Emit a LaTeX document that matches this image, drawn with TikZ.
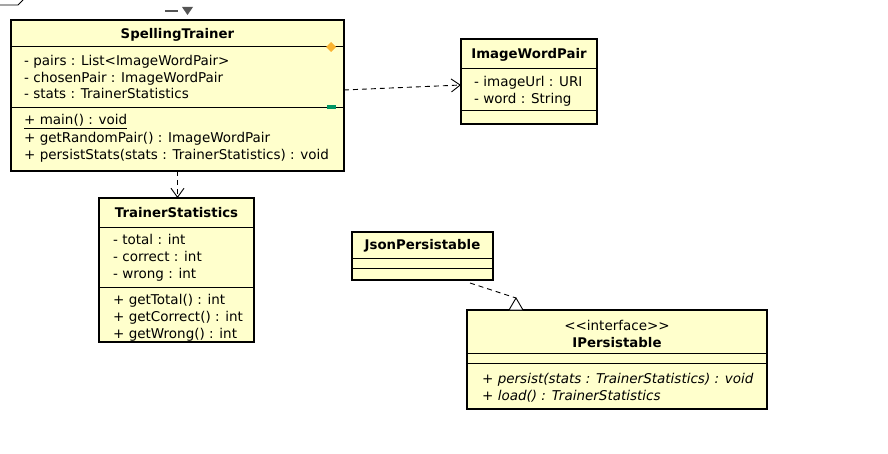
\documentclass[tikz,border=0pt]{standalone}
\usepackage{fontspec}
\setmainfont{DejaVu Sans}
\usetikzlibrary{arrows.meta,positioning}
\definecolor{umlfill}{RGB}{255,255,204}
\definecolor{umlgray}{RGB}{85,85,85}
\definecolor{umlorange}{RGB}{250,180,50}
\definecolor{umlgreen}{RGB}{0,150,100}

\begin{document}
\begin{tikzpicture}[x=1pt, y=-1pt, font=\fontsize{13.5}{16}\selectfont,
    cls/.style = {draw, line width=1.8pt, fill=umlfill, anchor=north west, inner sep=0pt, outer sep=0pt},
    ttl/.style = {inner sep=0pt, text height=12pt, text depth=2pt, font=\fontsize{13.3}{16}\selectfont\bfseries},
    mem/.style = {anchor=west, inner sep=0pt, text height=12pt, text depth=2pt},
    sep/.style = {line width=0.9pt},
    dep/.style = {line width=0.9pt, dash pattern=on 5pt off 4pt, -{Straight Barb[length=9pt, width=13pt]}}]
    \useasboundingbox (0,0) rectangle (888,454);

    % window bits
    \draw[line width=0.9pt] (0,5) -- (18,5) -- (23,0);
    \draw[umlgray, line width=1.6pt] (165,11) -- (178,11);
    \fill[umlgray] (182,7) -- (193,7) -- (187.5,15) -- cycle;

    % SpellingTrainer
    \node[cls, minimum width=333pt, minimum height=151pt] (st) at (11,20) {};
    \node[ttl] (stname) at ([shift={(166.5,14)}]st.north west) {SpellingTrainer};
    \draw[sep] ([shift={(0,26)}]st.north west) -- ([shift={(0,26)}]st.north east);
    \draw[sep] ([shift={(0,87)}]st.north west) -- ([shift={(0,87)}]st.north east);
    \node[mem] (st1) at ([shift={(13,41)}]st.north west) {- pairs : List<ImageWordPair>};
    \node[mem] (st2) at ([shift={(13,57.5)}]st.north west) {- chosenPair : ImageWordPair};
    \node[mem] (st3) at ([shift={(13,74)}]st.north west) {- stats : TrainerStatistics};
    \node[mem] (st4) at ([shift={(13,100)}]st.north west) {\underline{+ main() : void}};
    \node[mem] (st5) at ([shift={(13,117.5)}]st.north west) {+ getRandomPair() : ImageWordPair};
    \node[mem] (st6) at ([shift={(13,135)}]st.north west) {+ persistStats(stats : TrainerStatistics) : void};
    \fill[umlorange] (331,42) -- (336,47) -- (331,52) -- (326,47) -- cycle;
    \fill[umlgreen] (327,105) rectangle (336,109);

    % ImageWordPair
    \node[cls, minimum width=136pt, minimum height=85pt] (iwp) at (461,39) {};
    \node[ttl] (iwpname) at ([shift={(68,15)}]iwp.north west) {ImageWordPair};
    \draw[sep] ([shift={(0,29)}]iwp.north west) -- ([shift={(0,29)}]iwp.north east);
    \draw[sep] ([shift={(0,71)}]iwp.north west) -- ([shift={(0,71)}]iwp.north east);
    \node[mem] (iwp1) at ([shift={(13,43)}]iwp.north west) {- imageUrl : URI};
    \node[mem] (iwp2) at ([shift={(13,59.5)}]iwp.north west) {- word : String};

    % TrainerStatistics
    \node[cls, minimum width=155pt, minimum height=144pt] (ts) at (99,198) {};
    \node[ttl] (tsname) at ([shift={(77.5,15)}]ts.north west) {TrainerStatistics};
    \draw[sep] ([shift={(0,29)}]ts.north west) -- ([shift={(0,29)}]ts.north east);
    \draw[sep] ([shift={(0,89)}]ts.north west) -- ([shift={(0,89)}]ts.north east);
    \node[mem] (ts1) at ([shift={(14,42)}]ts.north west) {- total : int};
    \node[mem] (ts2) at ([shift={(14,58.5)}]ts.north west) {- correct : int};
    \node[mem] (ts3) at ([shift={(14,75)}]ts.north west) {- wrong : int};
    \node[mem] (ts4) at ([shift={(14,101)}]ts.north west) {+ getTotal() : int};
    \node[mem] (ts5) at ([shift={(14,118)}]ts.north west) {+ getCorrect() : int};
    \node[mem] (ts6) at ([shift={(14,135)}]ts.north west) {+ getWrong() : int};

    % JsonPersistable
    \node[cls, minimum width=141pt, minimum height=48pt] (jp) at (352,232) {};
    \node[ttl] (jpname) at ([shift={(70.5,13)}]jp.north west) {JsonPersistable};
    \draw[sep] ([shift={(0,26)}]jp.north west) -- ([shift={(0,26)}]jp.north east);
    \draw[sep] ([shift={(0,36)}]jp.north west) -- ([shift={(0,36)}]jp.north east);

    % IPersistable
    \node[cls, minimum width=300pt, minimum height=99pt] (ip) at (467,310) {};
    \node[mem, anchor=center] (ipster) at ([shift={(150,15)}]ip.north west) {<{}<interface>{}>};
    \node[ttl] (ipname) at ([shift={(150,32)}]ip.north west) {IPersistable};
    \draw[sep] ([shift={(0,43)}]ip.north west) -- ([shift={(0,43)}]ip.north east);
    \draw[sep] ([shift={(0,53)}]ip.north west) -- ([shift={(0,53)}]ip.north east);
    \node[mem] (ip1) at ([shift={(15,68)}]ip.north west) {\itshape + persist(stats : TrainerStatistics) : void};
    \node[mem] (ip2) at ([shift={(15,85)}]ip.north west) {\itshape + load() : TrainerStatistics};

    % connectors
    \draw[dep] ([yshift=5.5pt]st.east) -- ([yshift=-3.5pt]iwp.west);
    \draw[dep] (st.south) -- (st.south |- ts.north);
    \coordinate (rtip) at ([shift={(49,-12)}]ip.north west);
    \draw[line width=0.9pt, dash pattern=on 5pt off 4pt] ([shift={(118,3)}]jp.south west) -- (rtip);
    \draw[line width=0.9pt, fill=white] (rtip) -- ([shift={(42,0)}]ip.north west) -- ([shift={(56,0)}]ip.north west) -- cycle;
\end{tikzpicture}
\end{document}
